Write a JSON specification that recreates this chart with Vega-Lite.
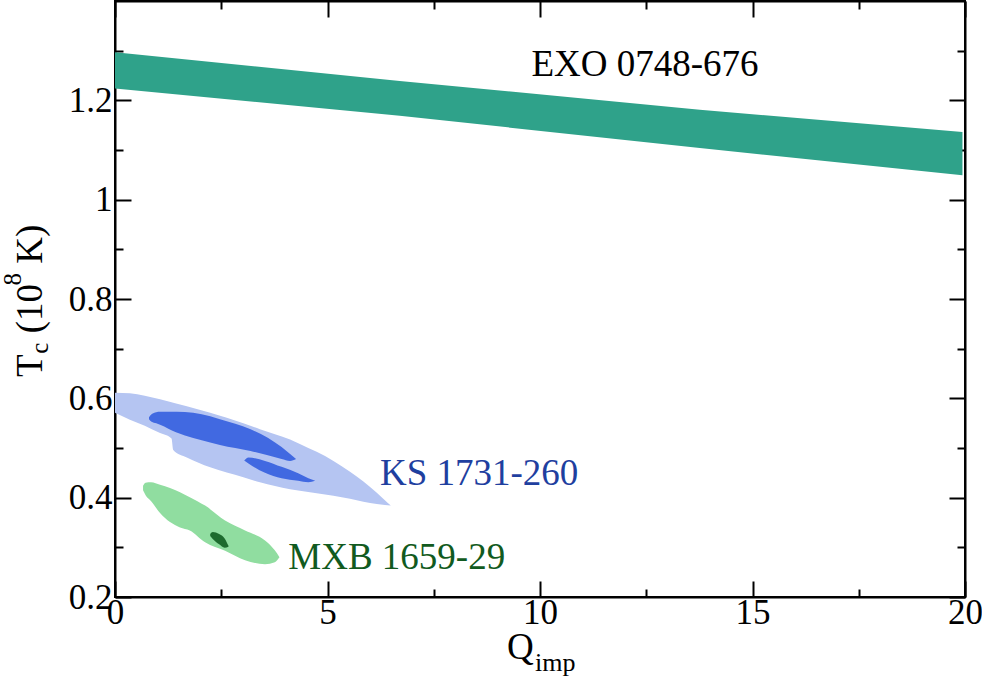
{
  "$schema": "https://vega.github.io/schema/vega-lite/v6.json",
  "width": 850,
  "height": 596,
  "autosize": "none",
  "padding": {"left": 115, "top": 1, "right": 17, "bottom": 87},
  "background": "white",
  "config": {
    "view": {"stroke": "black", "strokeWidth": 2},
    "font": "Liberation Serif",
    "axis": {
      "domainColor": "black", "domainWidth": 2, "tickColor": "black", "tickWidth": 2,
      "labelFont": "Liberation Serif", "labelFontSize": 35, "labelColor": "black",
      "grid": false, "title": null, "labelFlush": false, "labelOverlap": false
    }
  },
  "datasets": {
    "exo": [
      {"q": 0, "top": 1.297, "bot": 1.224},
      {"q": 6.7, "top": 1.239, "bot": 1.169},
      {"q": 13.76, "top": 1.181, "bot": 1.104},
      {"q": 19.94, "top": 1.136, "bot": 1.049}
    ],
    "ks1": [
      {"q": 0, "top": 0.611, "bot": 0.571},
      {"q": 0.35, "top": 0.610, "bot": 0.557},
      {"q": 0.7, "top": 0.605, "bot": 0.545},
      {"q": 1.06, "top": 0.598, "bot": 0.530},
      {"q": 1.33, "top": 0.592, "bot": 0.519},
      {"q": 1.37, "top": 0.591, "bot": 0.496},
      {"q": 1.69, "top": 0.584, "bot": 0.481},
      {"q": 2.24, "top": 0.571, "bot": 0.461},
      {"q": 3.02, "top": 0.550, "bot": 0.441},
      {"q": 3.41, "top": 0.538, "bot": 0.431},
      {"q": 4.12, "top": 0.517, "bot": 0.417},
      {"q": 4.35, "top": 0.508, "bot": 0.414},
      {"q": 5.14, "top": 0.474, "bot": 0.404},
      {"q": 5.53, "top": 0.452, "bot": 0.398},
      {"q": 6.16, "top": 0.410, "bot": 0.387},
      {"q": 6.35, "top": 0.395, "bot": 0.385},
      {"q": 6.49, "top": 0.384, "bot": 0.384}
    ],
    "ks2": [
      {"q": 0.8, "top": 0.562, "bot": 0.558},
      {"q": 0.86, "top": 0.568, "bot": 0.553},
      {"q": 0.97, "top": 0.572, "bot": 0.550},
      {"q": 1.06, "top": 0.573, "bot": 0.547},
      {"q": 1.45, "top": 0.573, "bot": 0.531},
      {"q": 1.84, "top": 0.571, "bot": 0.520},
      {"q": 2.24, "top": 0.564, "bot": 0.511},
      {"q": 2.47, "top": 0.558, "bot": 0.506},
      {"q": 3.19, "top": 0.538, "bot": 0.494},
      {"q": 3.92, "top": 0.502, "bot": 0.478},
      {"q": 4.12, "top": 0.488, "bot": 0.474},
      {"q": 4.26, "top": 0.478, "bot": 0.478}
    ],
    "ks3": [
      {"q": 3.04, "top": 0.475, "bot": 0.475},
      {"q": 3.14, "top": 0.481, "bot": 0.469},
      {"q": 3.53, "top": 0.474, "bot": 0.450},
      {"q": 3.92, "top": 0.462, "bot": 0.439},
      {"q": 4.31, "top": 0.449, "bot": 0.434},
      {"q": 4.55, "top": 0.439, "bot": 0.431},
      {"q": 4.71, "top": 0.434, "bot": 0.434}
    ],
    "mxb1": [
      {"q": 0.66, "top": 0.424, "bot": 0.415},
      {"q": 0.72, "top": 0.430, "bot": 0.405},
      {"q": 0.85, "top": 0.431, "bot": 0.393},
      {"q": 1.06, "top": 0.426, "bot": 0.369},
      {"q": 1.53, "top": 0.411, "bot": 0.340},
      {"q": 1.76, "top": 0.401, "bot": 0.334},
      {"q": 2.12, "top": 0.384, "bot": 0.310},
      {"q": 2.59, "top": 0.354, "bot": 0.293},
      {"q": 3.06, "top": 0.334, "bot": 0.274},
      {"q": 3.53, "top": 0.314, "bot": 0.266},
      {"q": 3.76, "top": 0.294, "bot": 0.270},
      {"q": 3.87, "top": 0.280, "bot": 0.280}
    ],
    "mxb2": [
      {"q": 2.24, "top": 0.327, "bot": 0.323},
      {"q": 2.3, "top": 0.331, "bot": 0.317},
      {"q": 2.45, "top": 0.327, "bot": 0.306},
      {"q": 2.58, "top": 0.318, "bot": 0.299},
      {"q": 2.67, "top": 0.303, "bot": 0.301}
    ]
  },
  "resolve": {"axis": {"x": "independent", "y": "independent"}},
  "layer": [
    {
      "data": {"name": "exo"},
      "mark": {"type": "area", "color": "#2fa28a", "interpolate": "linear"},
      "encoding": {
        "x": {"field": "q", "type": "quantitative", "scale": {"domain": [0, 20], "nice": false, "zero": false},
          "axis": {"orient": "bottom", "values": [0, 2.5, 5, 7.5, 10, 12.5, 15, 17.5, 20],
            "tickSize": {"condition": {"test": "datum.value % 5 === 0", "value": -16}, "value": -8},
            "labelExpr": "datum.value % 5 === 0 ? format(datum.value, '~g') : ''",
            "labelPadding": 14, "labelFontSize": 35, "labelFont": "Liberation Serif"}},
        "y": {"field": "top", "type": "quantitative", "scale": {"domain": [0.2, 1.4], "nice": false, "zero": false},
          "axis": {"orient": "left", "values": [0.2, 0.3, 0.4, 0.5, 0.6, 0.7, 0.8, 0.9, 1.0, 1.1, 1.2, 1.3],
            "tickSize": {"condition": {"test": "round(datum.value * 10) % 2 === 0", "value": -16}, "value": -8},
            "labelExpr": "round(datum.value * 10) % 2 === 0 ? format(datum.value, '~g') : ''",
            "labelPadding": 19, "labelFontSize": 35, "labelFont": "Liberation Serif"}},
        "y2": {"field": "bot"}
      }
    },
    {
      "data": {"name": "ks1"},
      "mark": {"type": "area", "color": "#b5c5f2", "interpolate": "monotone"},
      "encoding": {
        "x": {"field": "q", "type": "quantitative",
          "axis": {"orient": "top", "values": [0, 2.5, 5, 7.5, 10, 12.5, 15, 17.5, 20], "labels": false,
            "tickSize": {"condition": {"test": "datum.value % 5 === 0", "value": -16}, "value": -8}}},
        "y": {"field": "top", "type": "quantitative",
          "axis": {"orient": "right", "values": [0.2, 0.3, 0.4, 0.5, 0.6, 0.7, 0.8, 0.9, 1.0, 1.1, 1.2, 1.3], "labels": false,
            "tickSize": {"condition": {"test": "round(datum.value * 10) % 2 === 0", "value": -16}, "value": -8}}},
        "y2": {"field": "bot"}
      }
    },
    {
      "data": {"name": "ks2"},
      "mark": {"type": "area", "color": "#4169e1", "interpolate": "monotone"},
      "encoding": {
        "x": {"field": "q", "type": "quantitative", "axis": null},
        "y": {"field": "top", "type": "quantitative", "axis": null},
        "y2": {"field": "bot"}
      }
    },
    {
      "data": {"name": "ks3"},
      "mark": {"type": "area", "color": "#4169e1", "interpolate": "monotone"},
      "encoding": {
        "x": {"field": "q", "type": "quantitative", "axis": null},
        "y": {"field": "top", "type": "quantitative", "axis": null},
        "y2": {"field": "bot"}
      }
    },
    {
      "data": {"name": "mxb1"},
      "mark": {"type": "area", "color": "#90dda0", "interpolate": "monotone"},
      "encoding": {
        "x": {"field": "q", "type": "quantitative", "axis": null},
        "y": {"field": "top", "type": "quantitative", "axis": null},
        "y2": {"field": "bot"}
      }
    },
    {
      "data": {"name": "mxb2"},
      "mark": {"type": "area", "color": "#1d6b2e", "interpolate": "monotone"},
      "encoding": {
        "x": {"field": "q", "type": "quantitative", "axis": null},
        "y": {"field": "top", "type": "quantitative", "axis": null},
        "y2": {"field": "bot"}
      }
    },
    {
      "data": {"values": [{}]},
      "mark": {"type": "text", "text": "EXO 0748-676", "align": "left", "baseline": "alphabetic", "fontSize": 37, "font": "Liberation Serif", "color": "black"},
      "encoding": {"x": {"datum": 9.8, "type": "quantitative", "axis": null}, "y": {"datum": 1.248, "type": "quantitative", "axis": null}}
    },
    {
      "data": {"values": [{}]},
      "mark": {"type": "text", "text": "KS 1731-260", "align": "left", "baseline": "alphabetic", "fontSize": 37, "font": "Liberation Serif", "color": "#1f3f9f"},
      "encoding": {"x": {"datum": 6.235, "type": "quantitative", "axis": null}, "y": {"datum": 0.426, "type": "quantitative", "axis": null}}
    },
    {
      "data": {"values": [{}]},
      "mark": {"type": "text", "text": "MXB 1659-29", "align": "left", "baseline": "alphabetic", "fontSize": 37, "font": "Liberation Serif", "color": "#115a20"},
      "encoding": {"x": {"datum": 4.078, "type": "quantitative", "axis": null}, "y": {"datum": 0.257, "type": "quantitative", "axis": null}}
    },
    {
      "data": {"values": [{}]},
      "mark": {"type": "text", "text": "Q", "align": "left", "baseline": "alphabetic", "fontSize": 37, "font": "Liberation Serif", "color": "black"},
      "encoding": {"x": {"datum": 9.224, "type": "quantitative", "axis": null}, "y": {"datum": 0.075, "type": "quantitative", "axis": null}}
    },
    {
      "data": {"values": [{}]},
      "mark": {"type": "text", "text": "imp", "align": "left", "baseline": "alphabetic", "fontSize": 26, "font": "Liberation Serif", "color": "black"},
      "encoding": {"x": {"datum": 9.882, "type": "quantitative", "axis": null}, "y": {"datum": 0.052, "type": "quantitative", "axis": null}}
    },
    {
      "data": {"values": [{}]},
      "mark": {"type": "text", "text": "T", "angle": 270, "align": "left", "baseline": "alphabetic", "fontSize": 37, "font": "Liberation Serif", "color": "black"},
      "encoding": {"x": {"datum": -1.725, "type": "quantitative", "axis": null}, "y": {"datum": 0.643, "type": "quantitative", "axis": null}}
    },
    {
      "data": {"values": [{}]},
      "mark": {"type": "text", "text": "c", "angle": 270, "align": "left", "baseline": "alphabetic", "fontSize": 25, "font": "Liberation Serif", "color": "black"},
      "encoding": {"x": {"datum": -1.569, "type": "quantitative", "axis": null}, "y": {"datum": 0.69, "type": "quantitative", "axis": null}}
    },
    {
      "data": {"values": [{}]},
      "mark": {"type": "text", "text": "(10", "angle": 270, "align": "left", "baseline": "alphabetic", "fontSize": 37, "font": "Liberation Serif", "color": "black"},
      "encoding": {"x": {"datum": -1.725, "type": "quantitative", "axis": null}, "y": {"datum": 0.731, "type": "quantitative", "axis": null}}
    },
    {
      "data": {"values": [{}]},
      "mark": {"type": "text", "text": "8", "angle": 270, "align": "left", "baseline": "alphabetic", "fontSize": 25, "font": "Liberation Serif", "color": "black"},
      "encoding": {"x": {"datum": -2.22, "type": "quantitative", "axis": null}, "y": {"datum": 0.827, "type": "quantitative", "axis": null}}
    },
    {
      "data": {"values": [{}]},
      "mark": {"type": "text", "text": "K)", "angle": 270, "align": "left", "baseline": "alphabetic", "fontSize": 37, "font": "Liberation Serif", "color": "black"},
      "encoding": {"x": {"datum": -1.725, "type": "quantitative", "axis": null}, "y": {"datum": 0.871, "type": "quantitative", "axis": null}}
    }
  ]
}
